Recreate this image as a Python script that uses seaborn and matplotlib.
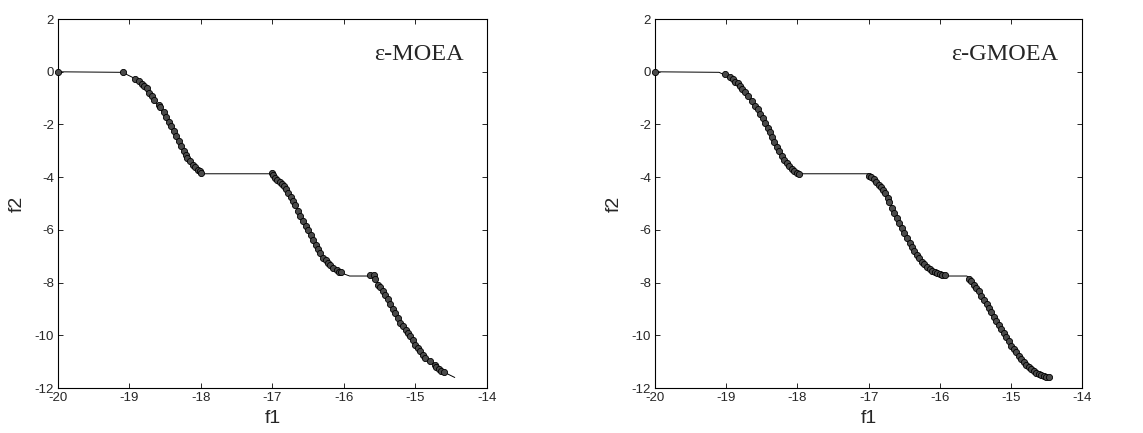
import matplotlib
matplotlib.use("Agg")
import matplotlib.pyplot as plt
import seaborn as sns

# Pareto front (line), shared by both panels
front_f1 = [-20.0, -19.1, -18.95, -18.8, -18.6, -18.4, -18.2, -18.1, -18.0,
            -17.0, -16.9, -16.7, -16.5, -16.3, -16.15, -16.05, -15.92, -15.62,
            -15.55, -15.4, -15.2, -15.0, -14.8, -14.6, -14.45]
front_f2 = [0.0, -0.02, -0.22, -0.6, -1.26, -2.15, -3.2, -3.55, -3.87,
            -3.87, -4.15, -4.95, -6.02, -7.0, -7.44, -7.62, -7.75, -7.75,
            -7.9, -8.55, -9.57, -10.35, -10.98, -11.4, -11.6]

# epsilon-MOEA solutions
moea_f1 = [-20.0, -19.09, -18.92, -18.87, -18.83, -18.79, -18.76, -18.72, -18.69,
           -18.65, -18.59, -18.57, -18.52, -18.49, -18.45, -18.42, -18.38, -18.35,
           -18.31, -18.28, -18.24, -18.21, -18.19, -18.15, -18.11, -18.08, -18.04,
           -18.02, -18.0,
           -17.01, -16.99, -16.96, -16.93, -16.9, -16.87, -16.84, -16.81, -16.78,
           -16.74, -16.71, -16.68, -16.64, -16.61, -16.57, -16.53, -16.5, -16.46,
           -16.43, -16.39, -16.36, -16.33, -16.29, -16.25, -16.22, -16.19, -16.15,
           -16.1, -16.07, -16.04,
           -15.63, -15.58, -15.56, -15.52, -15.49, -15.45, -15.42, -15.38, -15.35,
           -15.31, -15.28, -15.24, -15.21, -15.17, -15.13, -15.1, -15.07, -15.03,
           -15.0, -14.96, -14.93, -14.89, -14.86, -14.8, -14.73, -14.71, -14.67,
           -14.64, -14.6]
moea_f2 = [0.0, 0.0, -0.28, -0.36, -0.45, -0.53, -0.62, -0.81, -0.9,
           -1.08, -1.26, -1.34, -1.53, -1.7, -1.89, -2.07, -2.26, -2.44,
           -2.64, -2.83, -3.02, -3.17, -3.27, -3.39, -3.55, -3.63, -3.71,
           -3.78, -3.84,
           -3.85, -3.93, -4.03, -4.09, -4.18, -4.27, -4.35, -4.43, -4.6,
           -4.75, -4.92, -5.07, -5.29, -5.46, -5.67, -5.86, -6.02, -6.2,
           -6.37, -6.57, -6.71, -6.87, -7.06, -7.15, -7.25, -7.34, -7.44,
           -7.53, -7.6, -7.61,
           -7.72, -7.73, -7.86, -8.09, -8.18, -8.3, -8.48, -8.64, -8.81,
           -8.99, -9.15, -9.34, -9.52, -9.66, -9.81, -9.91, -10.04, -10.16,
           -10.35, -10.48, -10.58, -10.73, -10.87, -10.98, -11.14, -11.21, -11.27,
           -11.34, -11.4]

# epsilon-GMOEA solutions
gmoea_f1 = [-20.0, -19.02, -18.95, -18.91, -18.87, -18.84, -18.8, -18.78, -18.73,
            -18.7, -18.64, -18.59, -18.56, -18.52, -18.49, -18.45, -18.42, -18.39,
            -18.36, -18.33, -18.29, -18.26, -18.22, -18.19, -18.15, -18.12, -18.08,
            -18.05, -18.01, -17.98,
            -16.99, -16.96, -16.93, -16.9, -16.86, -16.83, -16.8, -16.77, -16.73,
            -16.71, -16.67, -16.64, -16.6, -16.57, -16.53, -16.5, -16.46, -16.42,
            -16.39, -16.36, -16.32, -16.29, -16.25, -16.22, -16.18, -16.14, -16.11,
            -16.07, -16.04, -16.0, -15.97, -15.92,
            -15.59, -15.56, -15.52, -15.49, -15.45, -15.42, -15.38, -15.34, -15.31,
            -15.28, -15.24, -15.21, -15.17, -15.14, -15.1, -15.07, -15.03, -15.0,
            -14.96, -14.93, -14.89, -14.86, -14.82, -14.79, -14.75, -14.72, -14.68,
            -14.65, -14.61, -14.58, -14.54, -14.5, -14.47]
gmoea_f2 = [0.0, -0.1, -0.21, -0.29, -0.37, -0.44, -0.52, -0.64, -0.76,
            -0.93, -1.12, -1.28, -1.43, -1.59, -1.77, -1.96, -2.12, -2.28,
            -2.46, -2.65, -2.84, -3.01, -3.2, -3.36, -3.47, -3.59, -3.7,
            -3.78, -3.83, -3.86,
            -3.94, -4.0, -4.08, -4.18, -4.28, -4.38, -4.49, -4.61, -4.78,
            -4.96, -5.15, -5.34, -5.53, -5.72, -5.91, -6.1, -6.29, -6.48,
            -6.65, -6.79, -6.95, -7.08, -7.21, -7.3, -7.39, -7.48, -7.55,
            -7.61, -7.65, -7.68, -7.7, -7.7,
            -7.86, -7.95, -8.08, -8.2, -8.33, -8.49, -8.65, -8.81, -8.96,
            -9.12, -9.29, -9.44, -9.59, -9.75, -9.92, -10.07, -10.22, -10.39,
            -10.51, -10.64, -10.77, -10.89, -11.02, -11.12, -11.21, -11.28, -11.36,
            -11.42, -11.48, -11.52, -11.56, -11.59, -11.59]

titles = ["\u03b5-MOEA", "\u03b5-GMOEA"]
x_ticks = [-20, -19, -18, -17, -16, -15, -14]
y_ticks = [-12, -10, -8, -6, -4, -2, 0, 2]

sns.set_style("ticks")
plt.rcParams['font.family'] = ['Liberation Sans', 'DejaVu Sans']

fig = plt.figure(figsize=(11.43, 4.33), dpi=100)
ax_left = fig.add_axes([0.0507, 0.1039, 0.3753, 0.852])
ax_right = fig.add_axes([0.5731, 0.1039, 0.3736, 0.852])

panels = [(ax_left, moea_f1, moea_f2, titles[0]),
          (ax_right, gmoea_f1, gmoea_f2, titles[1])]

for ax, xs, ys, name in panels:
    sns.lineplot(x=front_f1, y=front_f2, sort=False, ax=ax,
                 color='black', linewidth=0.7, estimator=None)
    pts = sns.scatterplot(x=xs, y=ys, ax=ax, s=20, color='#4a4a4a',
                          edgecolor='black', linewidth=0.6, zorder=3)
    for coll in ax.collections:
        coll.set_clip_on(False)
    ax.set_xlim(-20, -14)
    ax.set_ylim(-12, 2)
    ax.set_xticks(x_ticks)
    ax.set_yticks(y_ticks)
    ax.set_xticklabels([str(t) for t in x_ticks])
    ax.set_yticklabels([str(t) for t in y_ticks])
    ax.tick_params(direction='in', length=3.6, width=0.7, labelsize=9.5,
                   top=True, right=True, pad=3)
    for sp in ax.spines.values():
        sp.set_linewidth(0.8)
        sp.set_color('black')
    ax.set_xlabel('f1', fontsize=14, labelpad=4)
    ax.set_ylabel('f2', fontsize=14, labelpad=6)
    ax.text(0.945, 0.89, name, transform=ax.transAxes, ha='right',
            va='baseline', fontsize=17.5, family=['Liberation Serif', 'DejaVu Serif'])

fig.savefig('out.png', dpi=100)
